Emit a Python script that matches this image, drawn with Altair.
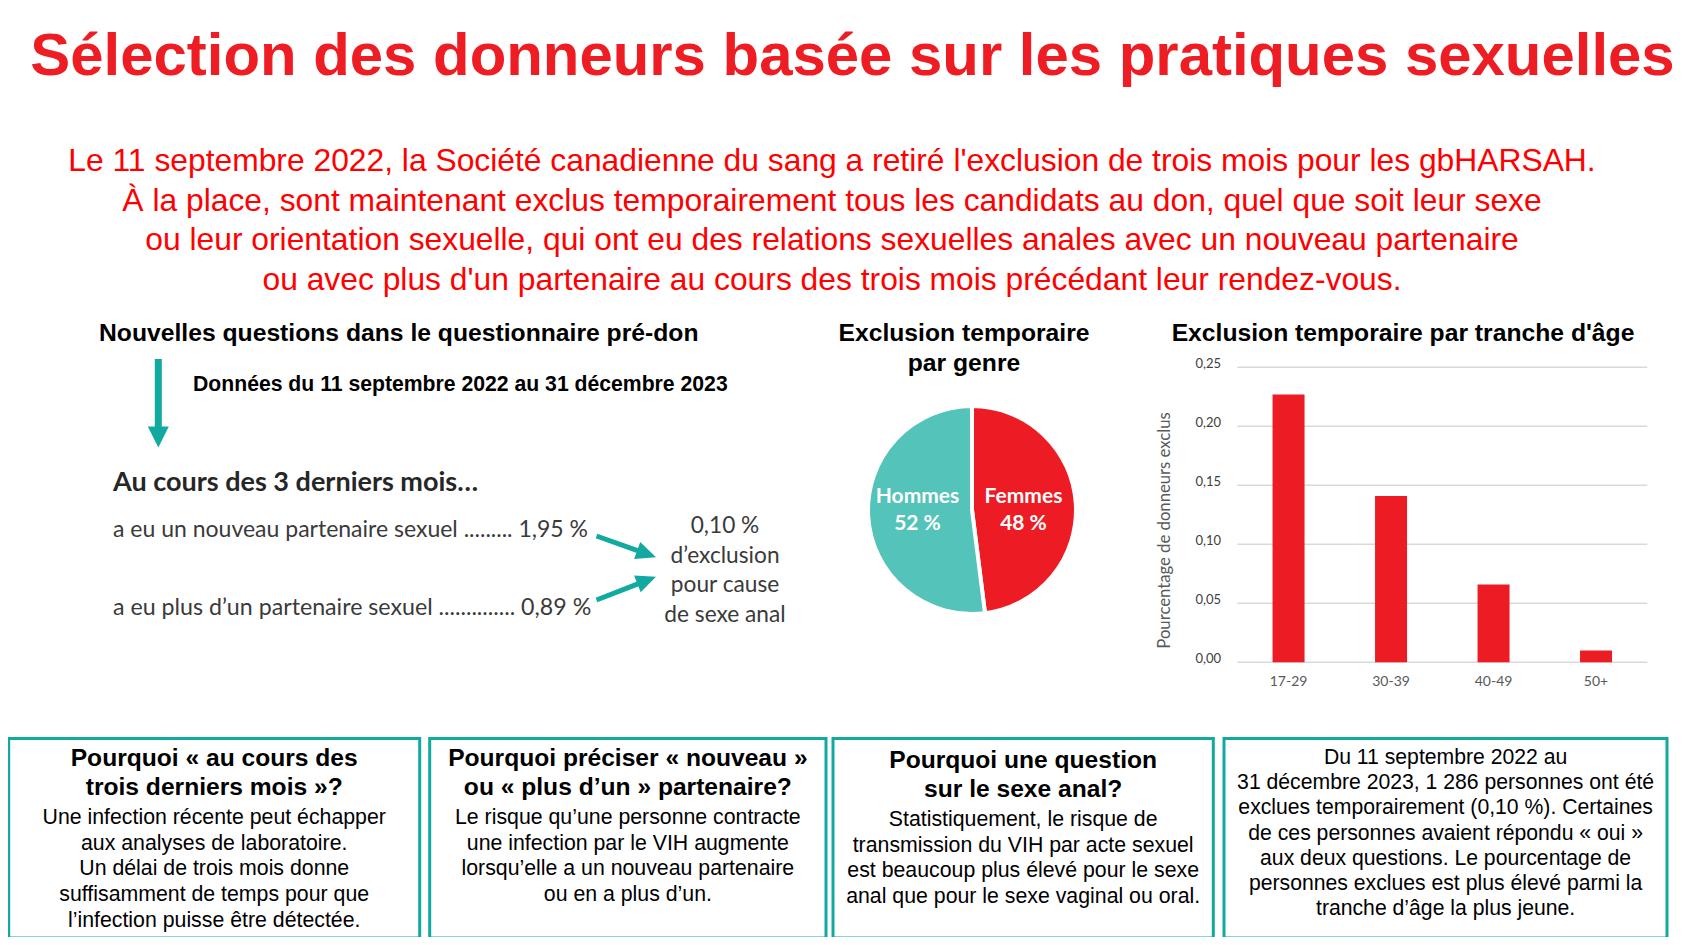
import altair as alt
import pandas as pd

# ---------------- data / text content ----------------
TITLE = "Sélection des donneurs basée sur les pratiques sexuelles"
INTRO = [
    "Le 11 septembre 2022, la Société canadienne du sang a retiré l'exclusion de trois mois pour les gbHARSAH.",
    "À la place, sont maintenant exclus temporairement tous les candidats au don, quel que soit leur sexe",
    "ou leur orientation sexuelle, qui ont eu des relations sexuelles anales avec un nouveau partenaire",
    "ou avec plus d'un partenaire au cours des trois mois précédant leur rendez-vous.",
]
LEFT_TITLE = "Nouvelles questions dans le questionnaire pré-don"
LEFT_DATES = "Données du 11 septembre 2022 au 31 décembre 2023"
LEFT_HEAD = "Au cours des 3 derniers mois…"
Q_LINES = [
    "a eu un nouveau partenaire sexuel ......... 1,95 %",
    "a eu plus d’un partenaire sexuel .............. 0,89 %",
]
RESULT = ["0,10 %", "d’exclusion", "pour cause", "de sexe anal"]

PIE_TITLE = ["Exclusion temporaire", "par genre"]
GENRES = ["Femmes", "Hommes"]
GENRE_SHARE = [48, 52]

BAR_TITLE = "Exclusion temporaire par tranche d'âge"
AGE_GROUPS = ["17-29", "30-39", "40-49", "50+"]
AGE_VALUES = [0.227, 0.141, 0.066, 0.010]
Y_TICKS = [0.00, 0.05, 0.10, 0.15, 0.20, 0.25]
Y_TITLE = "Pourcentage de donneurs exclus"

BOX_HEADS = [
    ["Pourquoi « au cours des", "trois derniers mois »?"],
    ["Pourquoi préciser « nouveau »", "ou « plus d’un » partenaire?"],
    ["Pourquoi une question", "sur le sexe anal?"],
]
BOX_BODIES = [
    ["Une infection récente peut échapper", "aux analyses de laboratoire.", "Un délai de trois mois donne",
     "suffisamment de temps pour que", "l’infection puisse être détectée."],
    ["Le risque qu’une personne contracte", "une infection par le VIH augmente",
     "lorsqu’elle a un nouveau partenaire", "ou en a plus d’un."],
    ["Statistiquement, le risque de", "transmission du VIH par acte sexuel",
     "est beaucoup plus élevé pour le sexe", "anal que pour le sexe vaginal ou oral."],
]
BOX4 = [
    "Du 11 septembre 2022 au",
    "31 décembre 2023, 1 286 personnes ont été",
    "exclues temporairement (0,10 %). Certaines",
    "de ces personnes avaient répondu « oui »",
    "aux deux questions. Le pourcentage de",
    "personnes exclues est plus élevé parmi la",
    "tranche d’âge la plus jeune.",
]

# ---------------- layout helpers ----------------
W, H = 1667, 929
M = 8  # page margin


def px(x):
    return x - M


def py(y):
    return y - M


RED = "#ED1C24"
TEAL = "#12A9A1"
PIE_TEAL = "#54C3BA"
SANS = "Liberation Sans"
CAL = "Lato"


def text_layer(lines, x, y, size, font=SANS, weight="normal", color="black",
               align="center", line_height=None, baseline="alphabetic", angle=None):
    df = pd.DataFrame({"t": ["\n".join(lines)]})
    kw = dict(font=font, fontSize=size, fontWeight=weight, color=color,
              align=align, baseline=baseline, lineBreak="\n")
    if line_height:
        kw["lineHeight"] = line_height
    if angle is not None:
        kw["angle"] = angle
    return alt.Chart(df).mark_text(**kw).encode(
        text="t:N", x=alt.value(px(x)), y=alt.value(py(y)))


dummy = pd.DataFrame({"k": [0]})
layers = []

# Title and intro
layers.append(text_layer([TITLE], 852.5, 75, 59.9, weight="bold", color="#EE1D23"))
layers.append(text_layer(INTRO, 832, 171, 31.8, color="#FF0000", line_height=39.5))

# ---------------- left panel ----------------
layers.append(text_layer([LEFT_TITLE], 99, 340.7, 24.7, weight="bold", align="left"))
layers.append(text_layer([LEFT_DATES], 193, 391, 21.2, weight="bold", align="left"))
layers.append(alt.Chart(dummy).mark_rule(color=TEAL, strokeWidth=7).encode(
    x=alt.value(px(158.3)), y=alt.value(py(359)), y2=alt.value(py(428))))
layers.append(alt.Chart(dummy).mark_point(
    shape="M-1,-1L1,-1L0,1Z", filled=True, size=441, color=TEAL, opacity=1).encode(
    x=alt.value(px(158.3)), y=alt.value(py(437))))
layers.append(text_layer([LEFT_HEAD], 113, 490.7, 27, font=CAL, weight="bold",
                         color="#262626", align="left"))
layers.append(text_layer([Q_LINES[0]], 113, 537.3, 23, font=CAL, color="#3A3A3A", align="left"))
layers.append(text_layer([Q_LINES[1]], 113, 615, 23.2, font=CAL, color="#3A3A3A", align="left"))
layers.append(text_layer(RESULT, 725, 533, 22.7, font=CAL, color="#3A3A3A", line_height=29.5))

# diagonal arrows
for (x1, y1, x2, y2, hx, hy, ang) in [
    (596.5, 536, 639, 551.2, 646.6, 553.9, 19.7),
    (596.5, 600, 639.2, 583.3, 646.7, 580.3, 338.6),
]:
    layers.append(alt.Chart(dummy).mark_rule(color=TEAL, strokeWidth=5).encode(
        x=alt.value(px(x1)), y=alt.value(py(y1)), x2=alt.value(px(x2)), y2=alt.value(py(y2))))
    layers.append(alt.Chart(dummy).mark_point(
        shape="M-1,-0.9L1,0L-1,0.9Z", filled=True, size=400, color=TEAL, opacity=1,
        angle=ang).encode(x=alt.value(px(hx)), y=alt.value(py(hy))))

# ---------------- pie ----------------
layers.append(text_layer(PIE_TITLE, 964, 340.7, 24.7, weight="bold", line_height=30))
pie_df = pd.DataFrame({"genre": GENRES, "share": GENRE_SHARE})
layers.append(alt.Chart(pie_df).mark_arc(radius=104, stroke="white", strokeWidth=4).encode(
    theta=alt.Theta("share:Q", stack=True),
    color=alt.Color("genre:N", scale=alt.Scale(domain=GENRES, range=[RED, PIE_TEAL]), legend=None),
    order=alt.Order("genre:N", sort="ascending"),
    x=alt.value(px(972)), y=alt.value(py(510))))
layers.append(text_layer(["Hommes", "52 %"], 917.5, 502.7, 21, font=CAL, weight="bold",
                         color="white", line_height=27.3))
layers.append(text_layer(["Femmes", "48 %"], 1023.5, 502.7, 21, font=CAL, weight="bold",
                         color="white", line_height=27.3))

# ---------------- bar chart ----------------
layers.append(text_layer([BAR_TITLE], 1403, 340.7, 24.7, weight="bold"))
yscale = alt.Scale(domain=[0, 0.25], range=[py(662.3), py(367.3)], nice=False, zero=True)
xscale = alt.Scale(type="point", domain=AGE_GROUPS, range=[px(1237.3), px(1647.3)], padding=0.5)
tick_df = pd.DataFrame({"tick": Y_TICKS,
                        "label": [f"{v:.2f}".replace(".", ",") for v in Y_TICKS]})
bar_df = pd.DataFrame({"age": AGE_GROUPS, "value": AGE_VALUES})

layers.append(alt.Chart(tick_df).mark_rule(color="#D9D9D9", strokeWidth=1.6).encode(
    y=alt.Y("tick:Q", scale=yscale, axis=None),
    x=alt.value(px(1237.3)), x2=alt.value(px(1647.3))))
layers.append(alt.Chart(bar_df).mark_bar(size=32, color=RED).encode(
    x=alt.X("age:N", scale=xscale, axis=None, sort=AGE_GROUPS),
    y=alt.Y("value:Q", scale=yscale, axis=None)))
layers.append(alt.Chart(tick_df).mark_text(font=CAL, fontSize=13, color="#404040",
                                           align="right", baseline="middle", dy=-3).encode(
    y=alt.Y("tick:Q", scale=yscale, axis=None), text="label:N", x=alt.value(px(1221))))
layers.append(alt.Chart(bar_df).mark_text(font=CAL, fontSize=14, color="#595959",
                                          baseline="middle").encode(
    x=alt.X("age:N", scale=xscale, axis=None, sort=AGE_GROUPS), text="age:N",
    y=alt.value(py(681.7))))
layers.append(text_layer([Y_TITLE], 1165, 530.5, 16.7, font=CAL, color="#595959",
                         baseline="middle", angle=270))

# ---------------- bottom boxes ----------------
BOXES = [(8.7, 419.7), (429.7, 826), (833, 1213.3), (1224, 1667)]
for (x1, x2) in BOXES:
    layers.append(alt.Chart(dummy).mark_rect(fillOpacity=0, stroke=TEAL, strokeWidth=3).encode(
        x=alt.value(px(x1)), x2=alt.value(px(x2)), y=alt.value(py(738.5)), y2=alt.value(py(938))))

box_dy = [0, 0, 2]
for i in range(3):
    cx = (BOXES[i][0] + BOXES[i][1]) / 2
    layers.append(text_layer(BOX_HEADS[i], cx, 766 + box_dy[i], 24.6, weight="bold", line_height=28.5))
    layers.append(text_layer(BOX_BODIES[i], cx, 824.3 + box_dy[i], 21.3, line_height=25.6))
layers.append(text_layer(BOX4, 1445.6, 764, 21.2, line_height=25.2))

chart = alt.layer(*layers).properties(
    width=W, height=H, autosize=alt.AutoSizeParams(type="none"), padding=0
).configure_view(stroke=None)

chart.save("out.html", embed_options={"renderer": "svg", "actions": False})
